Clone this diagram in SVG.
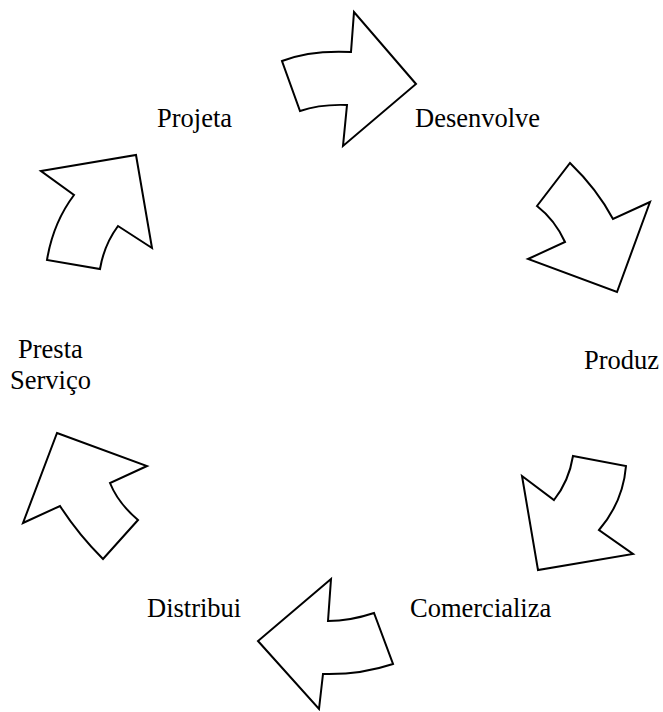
<svg xmlns="http://www.w3.org/2000/svg" width="663" height="712" viewBox="0 0 663 712">
<style>
.arrow{fill:#fff;stroke:#000;stroke-width:2;stroke-linejoin:miter}
.lbl{font-family:"Liberation Serif","Times New Roman",serif;font-size:26.5px;fill:#000}
</style>
<rect width="663" height="712" fill="#fff"/>
<g id="connectors">
<path id="arrow-projeta-desenvolve" class="arrow" d="M282,61 Q310,50 351,52 L354,12 L416,84 L343,146 L347,105 Q320,104 300,111 Z"/>
<path id="arrow-desenvolve-produz" class="arrow" d="M570,163 Q597,189 613,219 L650,202 L617,292 L528,259 L565,242 Q555,220 537,206 Z"/>
<path id="arrow-produz-comercializa" class="arrow" d="M573,456 L626,466 Q623,502 599,530 L633,554 L538,570 L522,476 L554,500 Q569,481 573,456 Z"/>
<path id="arrow-comercializa-distribui" class="arrow" d="M331,579 L258,641 L319,709 L323,674 Q360,675 393,664 L374,613 Q350,621 328,621 Z"/>
<path id="arrow-distribui-presta" class="arrow" d="M57,433 L147,466 L110,483 Q118,503 138,520 L103,559 Q78,534 60,506 L23,523 Z"/>
<path id="arrow-presta-projeta" class="arrow" d="M41,171 L136,155 L152,248 L118,226 Q104,245 100,269 L47,260 Q53,223 74,195 Z"/>
</g>
<g id="node-projeta"><text class="lbl" x="157" y="127">Projeta</text></g>
<g id="node-desenvolve"><text class="lbl" x="415" y="127">Desenvolve</text></g>
<g id="node-produz"><text class="lbl" x="584" y="369">Produz</text></g>
<g id="node-presta-servico"><text class="lbl" x="18" y="358">Presta</text><text class="lbl" x="10" y="389">Serviço</text></g>
<g id="node-distribui"><text class="lbl" x="147" y="617">Distribui</text></g>
<g id="node-comercializa"><text class="lbl" x="410" y="617">Comercializa</text></g>
</svg>
